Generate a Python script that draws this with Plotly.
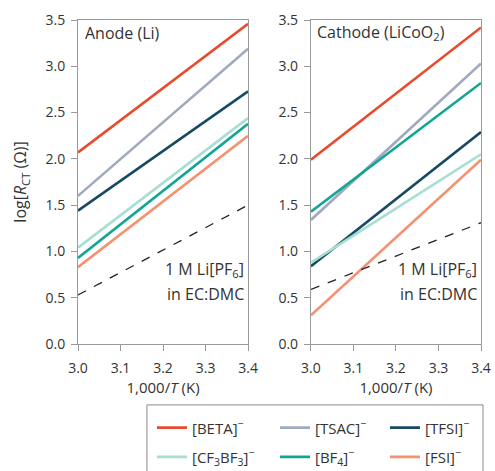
import plotly.graph_objects as go
from plotly.subplots import make_subplots

x_vals = [3.0, 3.4]
series_names = ["[BETA]<sup>−</sup>", "[TSAC]<sup>−</sup>", "[TFSI]<sup>−</sup>",
                "[CF<sub>3</sub>BF<sub>3</sub>]<sup>−</sup>", "[BF<sub>4</sub>]<sup>−</sup>", "[FSI]<sup>−</sup>"]
colors = ["#E84B2C", "#A0AABF", "#174A62", "#A6DED1", "#11A694", "#F5916F"]

anode_beta = [2.07, 3.46]
anode_tsac = [1.60, 3.19]
anode_tfsi = [1.44, 2.73]
anode_cf3bf3 = [1.04, 2.44]
anode_bf4 = [0.93, 2.38]
anode_fsi = [0.83, 2.25]
anode_pf6 = [0.53, 1.50]

cathode_beta = [1.99, 3.42]
cathode_tsac = [1.34, 3.03]
cathode_tfsi = [0.84, 2.29]
cathode_cf3bf3 = [0.88, 2.05]
cathode_bf4 = [1.43, 2.82]
cathode_fsi = [0.31, 1.99]
cathode_pf6 = [0.59, 1.31]

anode = [anode_beta, anode_tsac, anode_tfsi, anode_cf3bf3, anode_bf4, anode_fsi]
cathode = [cathode_beta, cathode_tsac, cathode_tfsi, cathode_cf3bf3, cathode_bf4, cathode_fsi]

fig = make_subplots(rows=1, cols=2, horizontal_spacing=0.156)

legend_ids = ["legend", "legend2", "legend3", "legend4", "legend5", "legend6"]

for i, (name, c) in enumerate(zip(series_names, colors)):
    fig.add_trace(go.Scatter(x=x_vals, y=anode[i], mode="lines", name=name, legend=legend_ids[i],
                             line=dict(color=c, width=2.6), showlegend=True), row=1, col=1)
    fig.add_trace(go.Scatter(x=x_vals, y=cathode[i], mode="lines", name=name,
                             line=dict(color=c, width=2.6), showlegend=False), row=1, col=2)

fig.add_trace(go.Scatter(x=x_vals, y=anode_pf6, mode="lines", showlegend=False,
                         line=dict(color="#222", width=1.3, dash="dash")), row=1, col=1)
fig.add_trace(go.Scatter(x=x_vals, y=cathode_pf6, mode="lines", showlegend=False,
                         line=dict(color="#222", width=1.3, dash="dash")), row=1, col=2)

axis_common = dict(showline=True, linecolor="#9a9a9a", linewidth=1, mirror=True,
                   ticks="outside", ticklen=6, tickcolor="#9a9a9a", showgrid=False,
                   zeroline=False, tickfont=dict(size=14, color="#333"))
for col in (1, 2):
    fig.update_xaxes(range=[3.0, 3.4], dtick=0.1, tickformat=".1f", ticklabelstandoff=5,
                     title=dict(text="1,000/<i>T</i> (K)", font=dict(size=15, color="#333"), standoff=2),
                     row=1, col=col, **axis_common)
    fig.update_yaxes(range=[0, 3.5], dtick=0.5, tickformat=".1f", ticklabelstandoff=3,
                     row=1, col=col, **axis_common)
fig.update_yaxes(title=dict(text="log[<i>R</i><sub>CT</sub> (Ω)]", font=dict(size=16, color="#333"), standoff=14),
                 row=1, col=1)

fig.add_annotation(x=3.012, y=3.36, xref="x", yref="y", text="Anode (Li)", showarrow=False,
                   xanchor="left", yanchor="middle", font=dict(size=16, color="#333"))
fig.add_annotation(x=3.01, y=3.36, xref="x2", yref="y2", text="Cathode (LiCoO<sub>2</sub>)", showarrow=False,
                   xanchor="left", yanchor="middle", font=dict(size=16, color="#333"))
for xr, yr in (("x", "y"), ("x2", "y2")):
    fig.add_annotation(x=3.395, y=0.81, xref=xr, yref=yr, text="1 M Li[PF<sub>6</sub>]",
                       showarrow=False, xanchor="right", yanchor="middle",
                       font=dict(size=16, color="#333"))
    fig.add_annotation(x=3.395, y=0.54, xref=xr, yref=yr, text="in EC:DMC",
                       showarrow=False, xanchor="right", yanchor="middle",
                       font=dict(size=16, color="#333"))

# legend frame
fig.add_shape(type="rect", xref="paper", yref="paper", x0=0.171, x1=1.005, y0=-0.42, y1=-0.188,
              line=dict(color="#888", width=1), fillcolor="rgba(0,0,0,0)")

col_x = [0.1836, 0.4888, 0.7618]
row_y = [-0.259, -0.349]
legend_layout = {}
for i, lid in enumerate(legend_ids):
    legend_layout[lid] = dict(orientation="h", xanchor="left", yanchor="middle",
                              x=col_x[i % 3], y=row_y[i // 3], itemwidth=30,
                              borderwidth=0, bgcolor="rgba(0,0,0,0)",
                              font=dict(size=15, color="#333"))

fig.update_layout(
    width=495, height=471,
    margin=dict(l=78, r=14, t=20, b=127, autoexpand=False),
    paper_bgcolor="white", plot_bgcolor="white",
    font=dict(family="Open Sans, sans-serif", color="#333"),
    **legend_layout,
)

fig.write_html("out.html")
